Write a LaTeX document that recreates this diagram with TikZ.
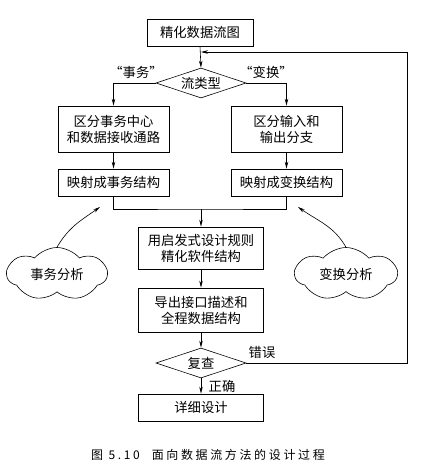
\documentclass[tikz,border=0pt]{standalone}
\usepackage{fontspec}
\setmainfont{Noto Sans CJK SC}
\newfontfamily\capfont[LetterSpace=22]{Noto Sans CJK SC}
\usetikzlibrary{shapes.geometric,shapes.symbols,arrows.meta}
\begin{document}
\begin{tikzpicture}[x=1pt,y=-1pt,
  every node/.style={font=\fontsize{13.3}{16}\selectfont},
  box/.style={draw,line width=0.6pt,inner sep=0pt,align=center},
  dia/.style={draw,line width=0.6pt,diamond,aspect=3,inner sep=0pt,minimum width=90pt,minimum height=30pt},
  cl/.style={draw,line width=0.6pt,cloud,cloud puffs=7,cloud puff arc=100,aspect=1.9,inner sep=0pt},
  ln/.style={line width=0.6pt},
  arr/.style={line width=0.6pt,-{Stealth[length=7pt,width=3.5pt]}},
  lab/.style={inner sep=0pt}]
\useasboundingbox (0,0) rectangle (427,471);
\node[box,minimum width=106pt,minimum height=27pt] (t) at (200,32.5) {精化数据流图};
\node[dia] (d1) at (201,83) {流类型};
\node[box,minimum width=111pt,minimum height=46pt] (b1) at (113.5,129) {区分事务中心\\和数据接收通路};
\node[box,minimum width=111pt,minimum height=46pt] (b2) at (286.5,129) {区分输入和\\输出分支};
\node[box,minimum width=111pt,minimum height=27pt] (b3) at (113.5,182.5) {映射成事务结构};
\node[box,minimum width=111pt,minimum height=27pt] (b4) at (286.5,182.5) {映射成变换结构};
\node[box,minimum width=125pt,minimum height=42pt] (b5) at (201,248) {用启发式设计规则\\精化软件结构};
\node[box,minimum width=125pt,minimum height=44pt] (b6) at (201,310) {导出接口描述和\\全程数据结构};
\node[dia] (d2) at (201,363) {复查};
\node[box,minimum width=125pt,minimum height=27pt] (b7) at (201,407.5) {详细设计};
\node[cl,minimum width=100pt,minimum height=53pt] (c1) at (57,274) {事务分析};
\node[cl,minimum width=102pt,minimum height=53pt] (c2) at (346,274) {变换分析};
\node[lab] (l1) at (136,72) {“事务”};
\node[lab] (l2) at (266,72) {“变换”};
\node[lab] (l3) at (262,352) {错误};
\node[lab] (l4) at (222,386) {正确};
\node[lab,font=\capfont\fontsize{12}{14}\selectfont] (cap) at (208,455) {图 5.10\quad 面向数据流方法的设计过程};
\coordinate (j) at (201,52);
\coordinate (r) at (407,52);
\coordinate (m) at (201,209);
\coordinate (a1) at (100,207);
\coordinate (a2) at (298,207);
\draw[arr] (t.south) -- (d1.north);
\draw[arr] (d1.west) -| (b1.north);
\draw[arr] (d1.east) -| (b2.north);
\draw[arr] (b1.south) -- (b3.north);
\draw[arr] (b2.south) -- (b4.north);
\draw[ln] (b3.south) |- (m) -| (b4.south);
\draw[arr] (m) -- (b5.north);
\draw[arr] (b5.south) -- (b6.north);
\draw[arr] (b6.south) -- (d2.north);
\draw[arr] (d2.south) -- (b7.north);
\draw[arr] (d2.east) -| (r) -- (j);
\draw[arr] (c1.north) to[out=60,in=215] (a1);
\draw[arr] (c2.north) to[out=120,in=-35] (a2);
\end{tikzpicture}
\end{document}
